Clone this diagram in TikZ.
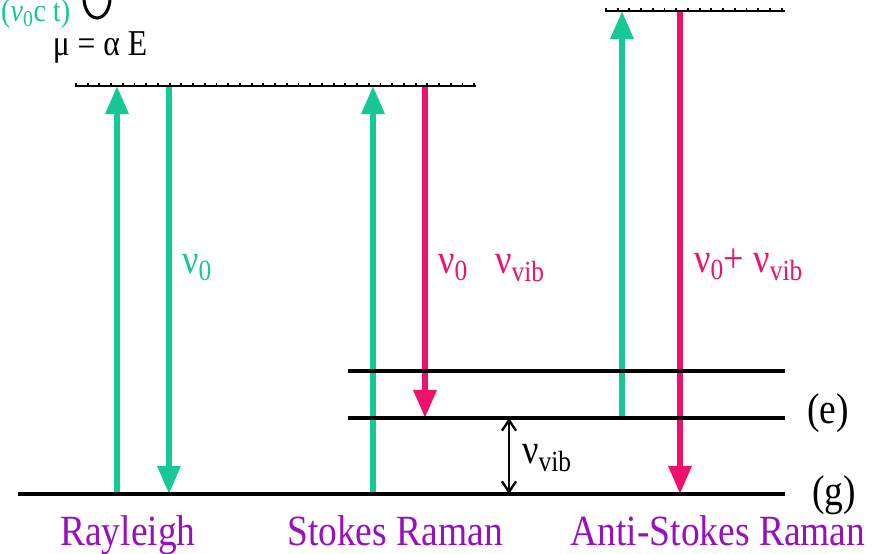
\documentclass[tikz,border=0pt]{standalone}
\usepackage{graphicx}
\usepackage{fontspec}
\setmainfont{Liberation Serif}
\usetikzlibrary{arrows.meta}
\definecolor{pumpgreen}{RGB}{22,200,150}
\definecolor{scatred}{RGB}{238,18,108}
\definecolor{labpurple}{RGB}{150,16,190}
\newcommand\tallt[1]{\scalebox{1}[1.15]{#1}}

\begin{document}
\begin{tikzpicture}[x=0.03cm,y=-0.03cm,
 lvline/.style={line width=3pt},
 virt/.style={line width=2.2pt},
 dots/.style={line width=1.6pt,dash pattern=on 1.6pt off 8.4pt},
 pump/.style={pumpgreen,line width=5pt,-{Triangle[width=19pt,length=24pt]}},
 scat/.style={scatred,line width=5pt,-{Triangle[width=19pt,length=24pt]}},
 big/.style={font=\fontsize{31}{36}\selectfont},
 procname/.style={font=\fontsize{32}{38}\selectfont,labpurple,anchor=base}]
 \useasboundingbox (0,0) rectangle (882,554);
 \clip (0,0) rectangle (882,554);
 % field and dipole
 \node[font=\fontsize{24}{28}\selectfont,pumpgreen,anchor=base west,inner sep=0pt] (wave) at (1,21) {\tallt{(\textit{ν}\textsubscript{0}c t)}};
 \draw[line width=2.6pt] (84,-2) arc[start angle=180,end angle=0,x radius=13,y radius=20];
 \node[font=\fontsize{27}{32}\selectfont,anchor=base] (dipole) at (100,55) {\tallt{μ = α E}};
 % levels
 \coordinate (gL) at (18,494);
 \coordinate (gR) at (785,494);
 \coordinate (e1L) at (348,418);
 \coordinate (e1R) at (785,418);
 \coordinate (e2L) at (348,371);
 \coordinate (e2R) at (785,371);
 \coordinate (v1L) at (75,86);
 \coordinate (v1R) at (476,86);
 \coordinate (v2L) at (605,11);
 \coordinate (v2R) at (785,11);
 % arrow ends
 \coordinate (R0) at (117,494);
 \coordinate (R1) at (117,86);
 \coordinate (R2) at (169,86);
 \coordinate (R3) at (169,494);
 \coordinate (S0) at (373,494);
 \coordinate (S1) at (373,86);
 \coordinate (S2) at (425,86);
 \coordinate (S3) at (425,418);
 \coordinate (A0) at (622,418);
 \coordinate (A1) at (622,11);
 \coordinate (A2) at (680,11);
 \coordinate (A3) at (680,494);
 \coordinate (V0) at (509,418);
 \coordinate (V1) at (509,494);
 \draw[pump] (R0) to (R1);
 \draw[pump] (R2) to (R3);
 \draw[pump] (S0) to (S1);
 \draw[scat] (S2) to (S3);
 \draw[pump] (A0) to (A1);
 \draw[scat] (A2) to (A3);
 \draw[lvline] (gL) to (gR);
 \draw[lvline] (e1L) to (e1R);
 \draw[lvline] (e2L) to (e2R);
 \draw[virt] (v1L) to (v1R);
 \draw[dots] ([yshift=1.4pt]v1L) to ([yshift=1.4pt]v1R);
 \draw[virt] (v2L) to (v2R);
 \draw[dots] ([yshift=1.4pt]v2L) to ([yshift=1.4pt]v2R);
 \draw[line width=2pt,{Straight Barb[length=9pt,width=12pt]}-{Straight Barb[length=9pt,width=12pt]}] (V0) to (V1);
 % labels
 \node[big,pumpgreen,anchor=base west,inner sep=0pt] (nu0) at (182,273) {\tallt{ν\textsubscript{0}}};
 \node[big,scatred,anchor=base west,inner sep=0pt] (stk) at (438,273) {\tallt{ν\textsubscript{0}\hspace{0.75em}ν\textsubscript{vib}}};
 \node[big,scatred,anchor=base west,inner sep=0pt] (ast) at (694,272) {\tallt{ν\textsubscript{0}+ ν\textsubscript{vib}}};
 \node[big,anchor=base west,inner sep=0pt] (dvib) at (522,463) {\tallt{ν\textsubscript{vib}}};
 \node[font=\fontsize{32}{38}\selectfont,anchor=base west,inner sep=0pt] (lve) at (807,423) {\tallt{(e)}};
 \node[font=\fontsize{32}{38}\selectfont,anchor=base west,inner sep=0pt] (lvg) at (812,505) {\tallt{(g)}};
 \node[procname] (ray) at (128,545) {\tallt{Rayleigh}};
 \node[procname] (sto) at (395,545) {\tallt{Stokes Raman}};
 \node[procname] (ant) at (718,545) {\tallt{Anti-Stokes Raman}};
\end{tikzpicture}
\end{document}
